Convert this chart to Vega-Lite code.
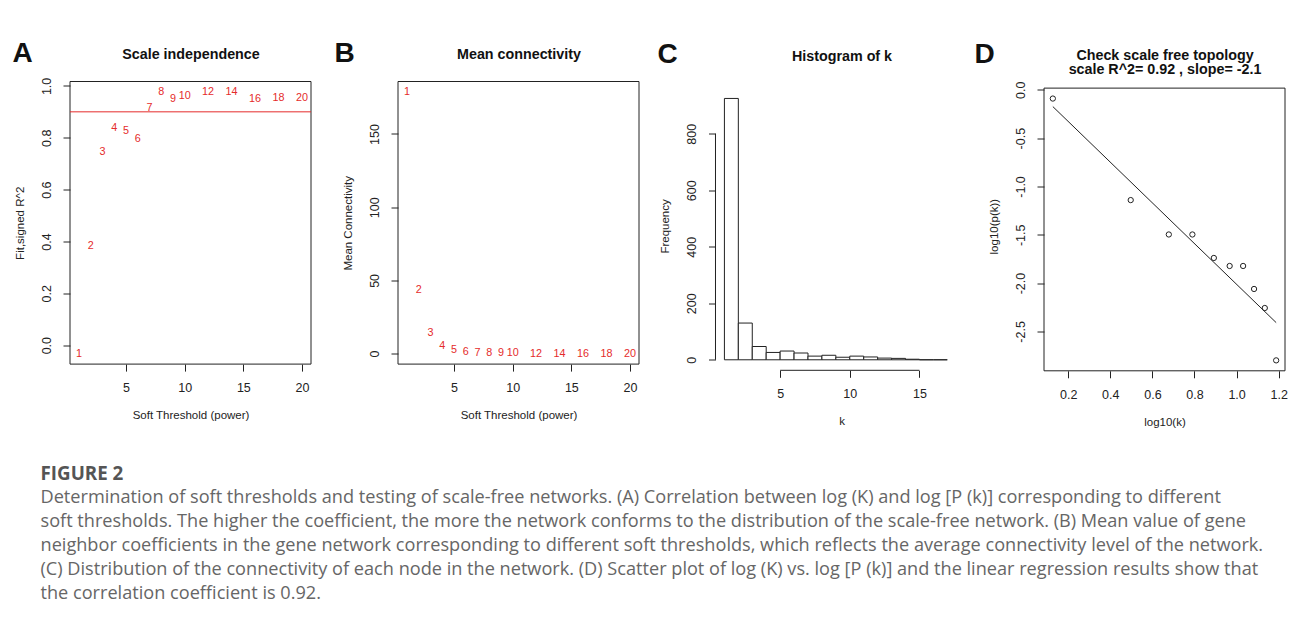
{
  "$schema": "https://vega.github.io/schema/vega-lite/v6.json",
  "background": "white",
  "padding": {"left": 12, "top": 39.5, "right": 0, "bottom": 0},
  "datasets": {
    "sft": [
      {"power": 1, "r2": -0.033, "meank": 178.7},
      {"power": 2, "r2": 0.383, "meank": 43.3},
      {"power": 3, "r2": 0.744, "meank": 14.2},
      {"power": 4, "r2": 0.836, "meank": 5.5},
      {"power": 5, "r2": 0.828, "meank": 2.7},
      {"power": 6, "r2": 0.796, "meank": 1.2},
      {"power": 7, "r2": 0.916, "meank": 0.6},
      {"power": 8, "r2": 0.977, "meank": 0.35},
      {"power": 9, "r2": 0.951, "meank": 0.2},
      {"power": 10, "r2": 0.961, "meank": 0.12},
      {"power": 12, "r2": 0.977, "meank": 0.05},
      {"power": 14, "r2": 0.977, "meank": 0.02},
      {"power": 16, "r2": 0.948, "meank": 0.01},
      {"power": 18, "r2": 0.952, "meank": 0.005},
      {"power": 20, "r2": 0.952, "meank": 0.003}
    ],
    "hist": [
      {"k0": 1, "k1": 2, "freq": 925},
      {"k0": 2, "k1": 3, "freq": 130},
      {"k0": 3, "k1": 4, "freq": 47},
      {"k0": 4, "k1": 5, "freq": 26},
      {"k0": 5, "k1": 6, "freq": 31},
      {"k0": 6, "k1": 7, "freq": 24},
      {"k0": 7, "k1": 8, "freq": 13},
      {"k0": 8, "k1": 9, "freq": 16},
      {"k0": 9, "k1": 10, "freq": 9},
      {"k0": 10, "k1": 11, "freq": 13},
      {"k0": 11, "k1": 12, "freq": 10},
      {"k0": 12, "k1": 13, "freq": 6},
      {"k0": 13, "k1": 14, "freq": 5},
      {"k0": 14, "k1": 15, "freq": 2},
      {"k0": 15, "k1": 16, "freq": 0},
      {"k0": 16, "k1": 17, "freq": 0}
    ],
    "scalefree": [
      {"logk": 0.127, "logp": -0.09},
      {"logk": 0.497, "logp": -1.141},
      {"logk": 0.678, "logp": -1.497},
      {"logk": 0.79, "logp": -1.497},
      {"logk": 0.892, "logp": -1.74},
      {"logk": 0.967, "logp": -1.823},
      {"logk": 1.031, "logp": -1.823},
      {"logk": 1.083, "logp": -2.061},
      {"logk": 1.134, "logp": -2.258},
      {"logk": 1.188, "logp": -2.8}
    ],
    "single": [{}]
  },
  "config": {
    "font": "Liberation Sans",
    "view": {"stroke": null},
    "axis": {
      "grid": false,
      "domain": false,
      "tickColor": "#222",
      "tickSize": 7,
      "labelColor": "#222",
      "labelFont": "Liberation Sans",
      "labelFontSize": 12.5,
      "labelPadding": 10.5,
      "titleColor": "#222",
      "titleFont": "Liberation Sans",
      "titleFontSize": 11.5,
      "titleFontWeight": "normal"
    },
    "axisBottom": {"titlePadding": 15.5},
    "axisLeft": {"labelAngle": -90, "labelAlign": "center", "labelBaseline": "bottom", "labelPadding": 10, "titlePadding": 14.7},
    "axisTop": {
      "labels": false,
      "ticks": false,
      "domain": false,
      "titleFontSize": 14.3,
      "titleFontWeight": "bold",
      "titleColor": "#111",
      "titleLineHeight": 14.5
    },
    "title": {
      "anchor": "start",
      "frame": "group",
      "align": "left",
      "font": "Liberation Sans",
      "fontSize": 28,
      "fontWeight": "bold",
      "color": "#111",
      "offset": 0
    }
  },
  "title": {
    "text": "FIGURE 2",
    "subtitle": [
      "Determination of soft thresholds and testing of scale-free networks. (A) Correlation between log (K) and log [P (k)] corresponding to different",
      "soft thresholds. The higher the coefficient, the more the network conforms to the distribution of the scale-free network. (B) Mean value of gene",
      "neighbor coefficients in the gene network corresponding to different soft thresholds, which reflects the average connectivity level of the network.",
      "(C) Distribution of the connectivity of each node in the network. (D) Scatter plot of log (K) vs. log [P (k)] and the linear regression results show that",
      "the correlation coefficient is 0.92."
    ],
    "orient": "bottom",
    "anchor": "start",
    "frame": "group",
    "align": "left",
    "dx": -29.5,
    "offset": 37,
    "font": "Open Sans",
    "fontSize": 18.8,
    "fontWeight": "bold",
    "color": "#555",
    "subtitleFont": "Open Sans",
    "subtitleFontSize": 18.15,
    "subtitleFontWeight": "normal",
    "subtitleColor": "#666",
    "subtitleLineHeight": 24,
    "subtitlePadding": 5
  },
  "bounds": "flush",
  "spacing": 87,
  "hconcat": [
    {
      "width": 241,
      "height": 282.6,
      "title": {"text": "A", "dx": -57.5, "dy": 24.5},
      "resolve": {"axis": {"x": "independent"}},
      "layer": [
        {
          "data": {"name": "single"},
          "mark": {"type": "rect", "fillOpacity": 0, "stroke": "#222", "strokeWidth": 1},
          "encoding": {
            "x": {"datum": 0.24, "axis": {"orient": "top", "title": "Scale independence", "titlePadding": 20}},
            "x2": {"datum": 20.76},
            "y": {"datum": -0.073},
            "y2": {"datum": 1.017}
          }
        },
        {
          "data": {"name": "single"},
          "mark": {"type": "rule", "color": "#e52b2b", "strokeWidth": 1},
          "encoding": {"y": {"datum": 0.9}}
        },
        {
          "data": {"name": "sft"},
          "mark": {"type": "text", "color": "#e52b2b", "fontSize": 10.8, "align": "center", "baseline": "middle"},
          "encoding": {
            "x": {"field": "power", "type": "quantitative", "title": "Soft Threshold (power)",
                  "scale": {"domain": [0.24, 20.76], "nice": false, "zero": false},
                  "axis": {"values": [5, 10, 15, 20]}},
            "y": {"field": "r2", "type": "quantitative", "title": "Fit,signed R^2",
                  "scale": {"domain": [-0.073, 1.017], "nice": false, "zero": false},
                  "axis": {"values": [0, 0.2, 0.4, 0.6, 0.8, 1.0], "format": ".1f"}},
            "text": {"field": "power", "type": "nominal"}
          }
        }
      ]
    },
    {
      "width": 241,
      "height": 282.6,
      "title": {"text": "B", "dx": -63.5, "dy": 24.5},
      "resolve": {"axis": {"x": "independent"}},
      "layer": [
        {
          "data": {"name": "single"},
          "mark": {"type": "rect", "fillOpacity": 0, "stroke": "#222", "strokeWidth": 1},
          "encoding": {
            "x": {"datum": 0.24, "axis": {"orient": "top", "title": "Mean connectivity", "titlePadding": 20}},
            "x2": {"datum": 20.76},
            "y": {"datum": -7.15},
            "y2": {"datum": 185.85}
          }
        },
        {
          "data": {"name": "sft"},
          "mark": {"type": "text", "color": "#e52b2b", "fontSize": 10.8, "align": "center", "baseline": "middle"},
          "encoding": {
            "x": {"field": "power", "type": "quantitative", "title": "Soft Threshold (power)",
                  "scale": {"domain": [0.24, 20.76], "nice": false, "zero": false},
                  "axis": {"values": [5, 10, 15, 20]}},
            "y": {"field": "meank", "type": "quantitative", "title": "Mean Connectivity",
                  "scale": {"domain": [-7.15, 185.85], "nice": false, "zero": false},
                  "axis": {"values": [0, 50, 100, 150]}},
            "text": {"field": "power", "type": "nominal"}
          }
        }
      ]
    },
    {
      "width": 231,
      "height": 288.8,
      "title": {"text": "C", "dx": -68.5, "dy": 23.5},
      "resolve": {"axis": {"x": "independent"}},
      "layer": [
        {
          "data": {"name": "hist"},
          "mark": {"type": "bar", "fill": "white", "stroke": "#222", "strokeWidth": 1},
          "encoding": {
            "x": {"field": "k0", "type": "quantitative", "title": "k",
                  "scale": {"domain": [1.114, 17.697], "nice": false, "zero": false},
                  "axis": {"values": [5, 10, 15]}},
            "x2": {"field": "k1"},
            "y": {"field": "freq", "type": "quantitative", "title": "Frequency",
                  "scale": {"domain": [-37.2, 985], "nice": false, "zero": false},
                  "axis": {"values": [0, 200, 400, 600, 800], "offset": 10.5}},
            "y2": {"datum": 0}
          }
        },
        {
          "data": {"name": "single"},
          "mark": {"type": "rule", "color": "#222", "strokeWidth": 1},
          "encoding": {"x": {"datum": 0.36, "axis": null}, "y": {"datum": 0}, "y2": {"datum": 800}}
        },
        {
          "data": {"name": "single"},
          "mark": {"type": "rule", "color": "#222", "strokeWidth": 1},
          "encoding": {
            "x": {"datum": 5, "axis": {"orient": "top", "title": "Histogram of k", "titlePadding": 18}},
            "x2": {"datum": 15},
            "y": {"datum": -37.2}
          }
        }
      ]
    },
    {
      "width": 241,
      "height": 289.3,
      "title": {"text": "D", "dx": -69.5, "dy": 25},
      "resolve": {"axis": {"x": "independent"}},
      "layer": [
        {
          "data": {"name": "single"},
          "mark": {"type": "rect", "fillOpacity": 0, "stroke": "#222", "strokeWidth": 1},
          "encoding": {
            "x": {"datum": 0.085, "axis": {"orient": "top", "title": ["Check scale free topology", "scale R^2= 0.92 , slope= -2.1"], "titlePadding": 5}},
            "x2": {"datum": 1.23},
            "y": {"datum": -2.908},
            "y2": {"datum": 0.018}
          }
        },
        {
          "data": {"name": "scalefree"},
          "mark": {"type": "point", "shape": "circle", "filled": false, "size": 28, "stroke": "#222", "strokeWidth": 1, "opacity": 1},
          "encoding": {
            "x": {"field": "logk", "type": "quantitative", "title": "log10(k)",
                  "scale": {"domain": [0.085, 1.23], "nice": false, "zero": false},
                  "axis": {"values": [0.2, 0.4, 0.6, 0.8, 1.0, 1.2], "format": ".1f"}},
            "y": {"field": "logp", "type": "quantitative", "title": "log10(p(k))",
                  "scale": {"domain": [-2.908, 0.0865], "nice": false, "zero": false},
                  "axis": {"values": [0, -0.5, -1, -1.5, -2, -2.5],
                           "labelExpr": "replace(format(datum.value, '.1f'), '\u2212', '-')"}}
          }
        },
        {
          "data": {"name": "scalefree"},
          "transform": [{"regression": "logp", "on": "logk"}],
          "mark": {"type": "line", "color": "#222", "strokeWidth": 1},
          "encoding": {
            "x": {"field": "logk", "type": "quantitative", "axis": null},
            "y": {"field": "logp", "type": "quantitative", "title": "log10(p(k))"}
          }
        }
      ]
    }
  ]
}
